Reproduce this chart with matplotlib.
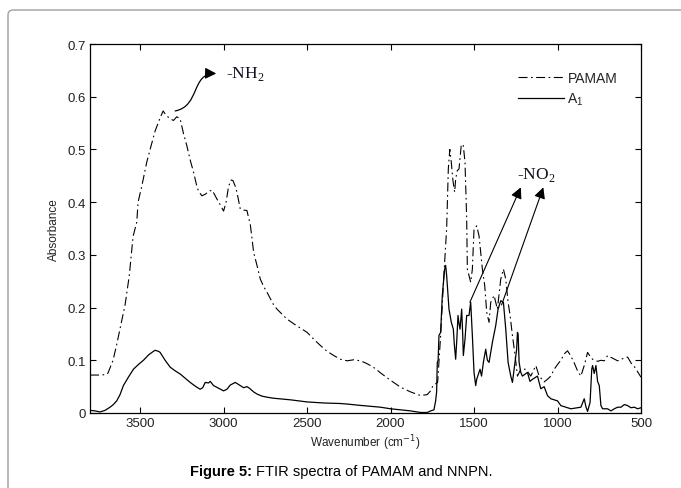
import matplotlib
matplotlib.use("Agg")
import matplotlib.pyplot as plt
from matplotlib.patches import FancyArrowPatch, FancyBboxPatch
from matplotlib.path import Path

plt.rcParams['font.family'] = ['Liberation Sans', 'DejaVu Sans']
plt.rcParams['lines.scale_dashes'] = False

# ---------------- data ----------------
pamam_wn = [3800, 3740, 3700, 3692, 3662, 3640, 3620, 3600, 3590, 3565, 3542, 3520, 3512, 3490,
            3460, 3440, 3410, 3380, 3362, 3345, 3320, 3300, 3280, 3260, 3240, 3220, 3200, 3180,
            3160, 3150, 3130, 3110, 3090, 3070, 3055, 3040, 3020, 3000, 2985, 2970, 2955, 2944,
            2930, 2920, 2900, 2880, 2860, 2850, 2840, 2820, 2800, 2780, 2760, 2740, 2700, 2680,
            2620, 2560, 2500, 2460, 2420, 2380, 2340, 2300, 2260, 2220, 2180, 2150, 2120, 2090,
            2060, 2000, 1940, 1880, 1820, 1780, 1760, 1746, 1718, 1700, 1682, 1664, 1654, 1645,
            1636, 1626, 1616, 1610, 1600, 1590, 1576, 1564, 1554, 1544, 1540, 1520, 1510, 1500,
            1484, 1470, 1460, 1450, 1436, 1424, 1410, 1400, 1380, 1360, 1340, 1324, 1310, 1296,
            1284, 1270, 1254, 1240, 1220, 1190, 1160, 1130, 1110, 1080, 1060, 1040, 1020, 1000,
            980, 960, 940, 920, 900, 880, 860, 840, 820, 800, 790, 760, 740, 720, 700, 670, 640,
            610, 580, 560, 540, 520, 500]
pamam_abs = [0.072, 0.072, 0.073, 0.076, 0.100, 0.130, 0.160, 0.190, 0.205, 0.260, 0.335, 0.362, 0.400, 0.430,
             0.476, 0.500, 0.535, 0.560, 0.573, 0.565, 0.558, 0.555, 0.562, 0.558, 0.530, 0.507, 0.480, 0.457,
             0.430, 0.421, 0.412, 0.415, 0.420, 0.423, 0.415, 0.406, 0.395, 0.383, 0.400, 0.430, 0.442, 0.441,
             0.430, 0.419, 0.387, 0.385, 0.384, 0.370, 0.358, 0.305, 0.280, 0.254, 0.240, 0.229, 0.205, 0.197,
             0.178, 0.165, 0.153, 0.140, 0.128, 0.117, 0.109, 0.102, 0.099, 0.101, 0.099, 0.095, 0.090, 0.084,
             0.076, 0.062, 0.049, 0.040, 0.033, 0.035, 0.042, 0.052, 0.058, 0.147, 0.254, 0.350, 0.463, 0.500,
             0.475, 0.440, 0.419, 0.444, 0.460, 0.463, 0.510, 0.507, 0.475, 0.368, 0.273, 0.248, 0.273, 0.349,
             0.355, 0.336, 0.305, 0.273, 0.242, 0.191, 0.172, 0.210, 0.223, 0.197, 0.254, 0.273, 0.254, 0.210,
             0.185, 0.147, 0.109, 0.070, 0.083, 0.083, 0.070, 0.090, 0.070, 0.059, 0.064, 0.070, 0.083, 0.092,
             0.100, 0.112, 0.118, 0.108, 0.095, 0.080, 0.070, 0.090, 0.115, 0.105, 0.102, 0.098, 0.100, 0.099,
             0.109, 0.104, 0.099, 0.103, 0.106, 0.095, 0.088, 0.078, 0.068]

a1_wn = [3800, 3770, 3740, 3710, 3680, 3660, 3640, 3620, 3600, 3570, 3540, 3510, 3480, 3450, 3420, 3410,
         3390, 3380, 3350, 3320, 3290, 3260, 3230, 3200, 3170, 3140, 3125, 3110, 3090, 3080, 3060, 3030,
         3000, 2980, 2960, 2930, 2915, 2900, 2880, 2860, 2845, 2820, 2800, 2770, 2740, 2700, 2600, 2500,
         2400, 2300, 2260, 2200, 2100, 2060, 2000, 1940, 1880, 1820, 1780, 1760, 1740, 1730, 1724, 1720,
         1715, 1710, 1700, 1690, 1676, 1670, 1664, 1650, 1636, 1624, 1618, 1610, 1603, 1596, 1590, 1584,
         1574, 1568, 1564, 1554, 1544, 1530, 1520, 1510, 1500, 1490, 1484, 1464, 1455, 1444, 1430, 1420,
         1410, 1390, 1370, 1356, 1340, 1324, 1310, 1296, 1280, 1270, 1260, 1245, 1240, 1236, 1230, 1220,
         1210, 1180, 1165, 1150, 1120, 1100, 1080, 1060, 1040, 1000, 980, 920, 880, 860, 840, 830, 820,
         805, 795, 790, 780, 770, 760, 750, 740, 730, 700, 680, 660, 640, 620, 600, 580, 560, 540, 520, 500]
a1_abs = [0.005, 0.004, 0.002, 0.005, 0.011, 0.016, 0.023, 0.035, 0.052, 0.068, 0.083, 0.092, 0.100, 0.110, 0.117, 0.119,
          0.117, 0.115, 0.100, 0.087, 0.080, 0.074, 0.066, 0.058, 0.051, 0.045, 0.048, 0.058, 0.057, 0.060, 0.052, 0.047,
          0.042, 0.045, 0.053, 0.058, 0.055, 0.052, 0.048, 0.050, 0.047, 0.040, 0.036, 0.032, 0.030, 0.028, 0.025, 0.021,
          0.019, 0.018, 0.017, 0.015, 0.012, 0.011, 0.008, 0.006, 0.004, 0.001, 0.001, 0.004, 0.006, 0.023, 0.040, 0.096,
          0.100, 0.147, 0.153, 0.223, 0.273, 0.280, 0.261, 0.197, 0.172, 0.159, 0.130, 0.102, 0.140, 0.185, 0.170, 0.159,
          0.197, 0.150, 0.109, 0.140, 0.185, 0.185, 0.210, 0.147, 0.077, 0.052, 0.064, 0.083, 0.070, 0.096, 0.121, 0.100,
          0.096, 0.134, 0.166, 0.197, 0.213, 0.210, 0.159, 0.096, 0.070, 0.058, 0.083, 0.120, 0.153, 0.150, 0.096, 0.077,
          0.070, 0.077, 0.060, 0.064, 0.070, 0.046, 0.050, 0.033, 0.027, 0.023, 0.014, 0.008, 0.010, 0.011, 0.027, 0.012, 0.003,
          0.020, 0.083, 0.090, 0.075, 0.090, 0.060, 0.052, 0.014, 0.008, 0.008, 0.004, 0.008, 0.011, 0.011, 0.016, 0.014, 0.010, 0.011, 0.008, 0.010]

x_ticks = [3500, 3000, 2500, 2000, 1500, 1000, 500]
y_ticks = [0, 0.1, 0.2, 0.3, 0.4, 0.5, 0.6, 0.7]
y_ticklabels = ['0', '0.1', '0.2', '0.3', '0.4', '0.5', '0.6', '0.7']
series_labels = ['PAMAM', r'A$_\mathregular{1}$']

# ---------------- figure ----------------
W, H = 681, 489
fig = plt.figure(figsize=(W / 100, H / 100), dpi=100)
ax = fig.add_axes([90 / W, 1 - 414 / H, 551 / W, 369 / H])

l1, = ax.plot(pamam_wn, pamam_abs, color='black', lw=0.8, dashes=(6.5, 2.5, 1.2, 2.5))
l2, = ax.plot(a1_wn, a1_abs, color='black', lw=0.9)

ax.set_xlim(3800, 500)
ax.set_ylim(0, 0.7)
ax.set_xticks(x_ticks)
ax.set_xticklabels([str(t) for t in x_ticks])
ax.set_yticks(y_ticks)
ax.set_yticklabels(y_ticklabels)
ax.tick_params(direction='in', length=4, width=0.8, top=True, right=True, labelsize=9.5, pad=3,
               labelcolor='#222222')
for s in ax.spines.values():
    s.set_linewidth(0.9)

ax.set_xlabel('Wavenumber (cm$^{-1}$)', fontsize=8.5, labelpad=2, color='#222222')
ax.set_ylabel('Absorbance', fontsize=8.5, labelpad=5, color='#222222')

leg = ax.legend([l1, l2], series_labels, loc='upper left', bbox_to_anchor=(0.777, 0.928),
                frameon=False, fontsize=10, handlelength=3.3, handletextpad=0.25,
                labelspacing=0.45, borderpad=0, borderaxespad=0)
for t in leg.get_texts():
    t.set_color('#222222')

# -NH2 annotation with S-shaped arrow
verts = [(3290, 0.573), (3140, 0.582), (3195, 0.645), (3044, 0.644)]
codes = [Path.MOVETO, Path.CURVE4, Path.CURVE4, Path.CURVE4]
arr = FancyArrowPatch(path=Path(verts, codes), arrowstyle='-|>,head_length=0.55,head_width=0.28',
                      mutation_scale=12, color='black', lw=0.9, transform=ax.transData)
ax.add_patch(arr)
ax.text(2985, 0.645, '-NH$_\\mathregular{2}$', fontsize=12.5, family='Liberation Serif',
        ha='left', va='center', color='#101020')

# -NO2 annotation
ax.text(1240, 0.453, '-NO$_\\mathregular{2}$', fontsize=12.5, family='Liberation Serif',
        ha='left', va='center', color='#101020')
for tail, head in [((1525, 0.21), (1220, 0.428)), ((1335, 0.205), (1085, 0.428))]:
    ax.annotate('', xy=head, xytext=tail,
                arrowprops=dict(arrowstyle='-|>,head_length=0.55,head_width=0.28', mutation_scale=12,
                                color='black', lw=0.8, shrinkA=0, shrinkB=0))

# panel border
border = FancyBboxPatch((0.08, -0.5), 8.0, 4.78 + 0.5, boxstyle='round,pad=0,rounding_size=0.05',
                        transform=fig.dpi_scale_trans, fill=False, edgecolor='#a0a0a0', lw=1.0,
                        clip_on=False)
fig.patches.append(border)

# caption
split_x = 252 / W
fig.text(split_x, 1 - 472 / H, 'Figure 5:', fontsize=10.5, fontweight='bold', ha='right', va='center')
fig.text(split_x + 4 / W, 1 - 472 / H, 'FTIR spectra of PAMAM and NNPN.', fontsize=10.5,
         ha='left', va='center')

fig.savefig('out.png', dpi=100)
